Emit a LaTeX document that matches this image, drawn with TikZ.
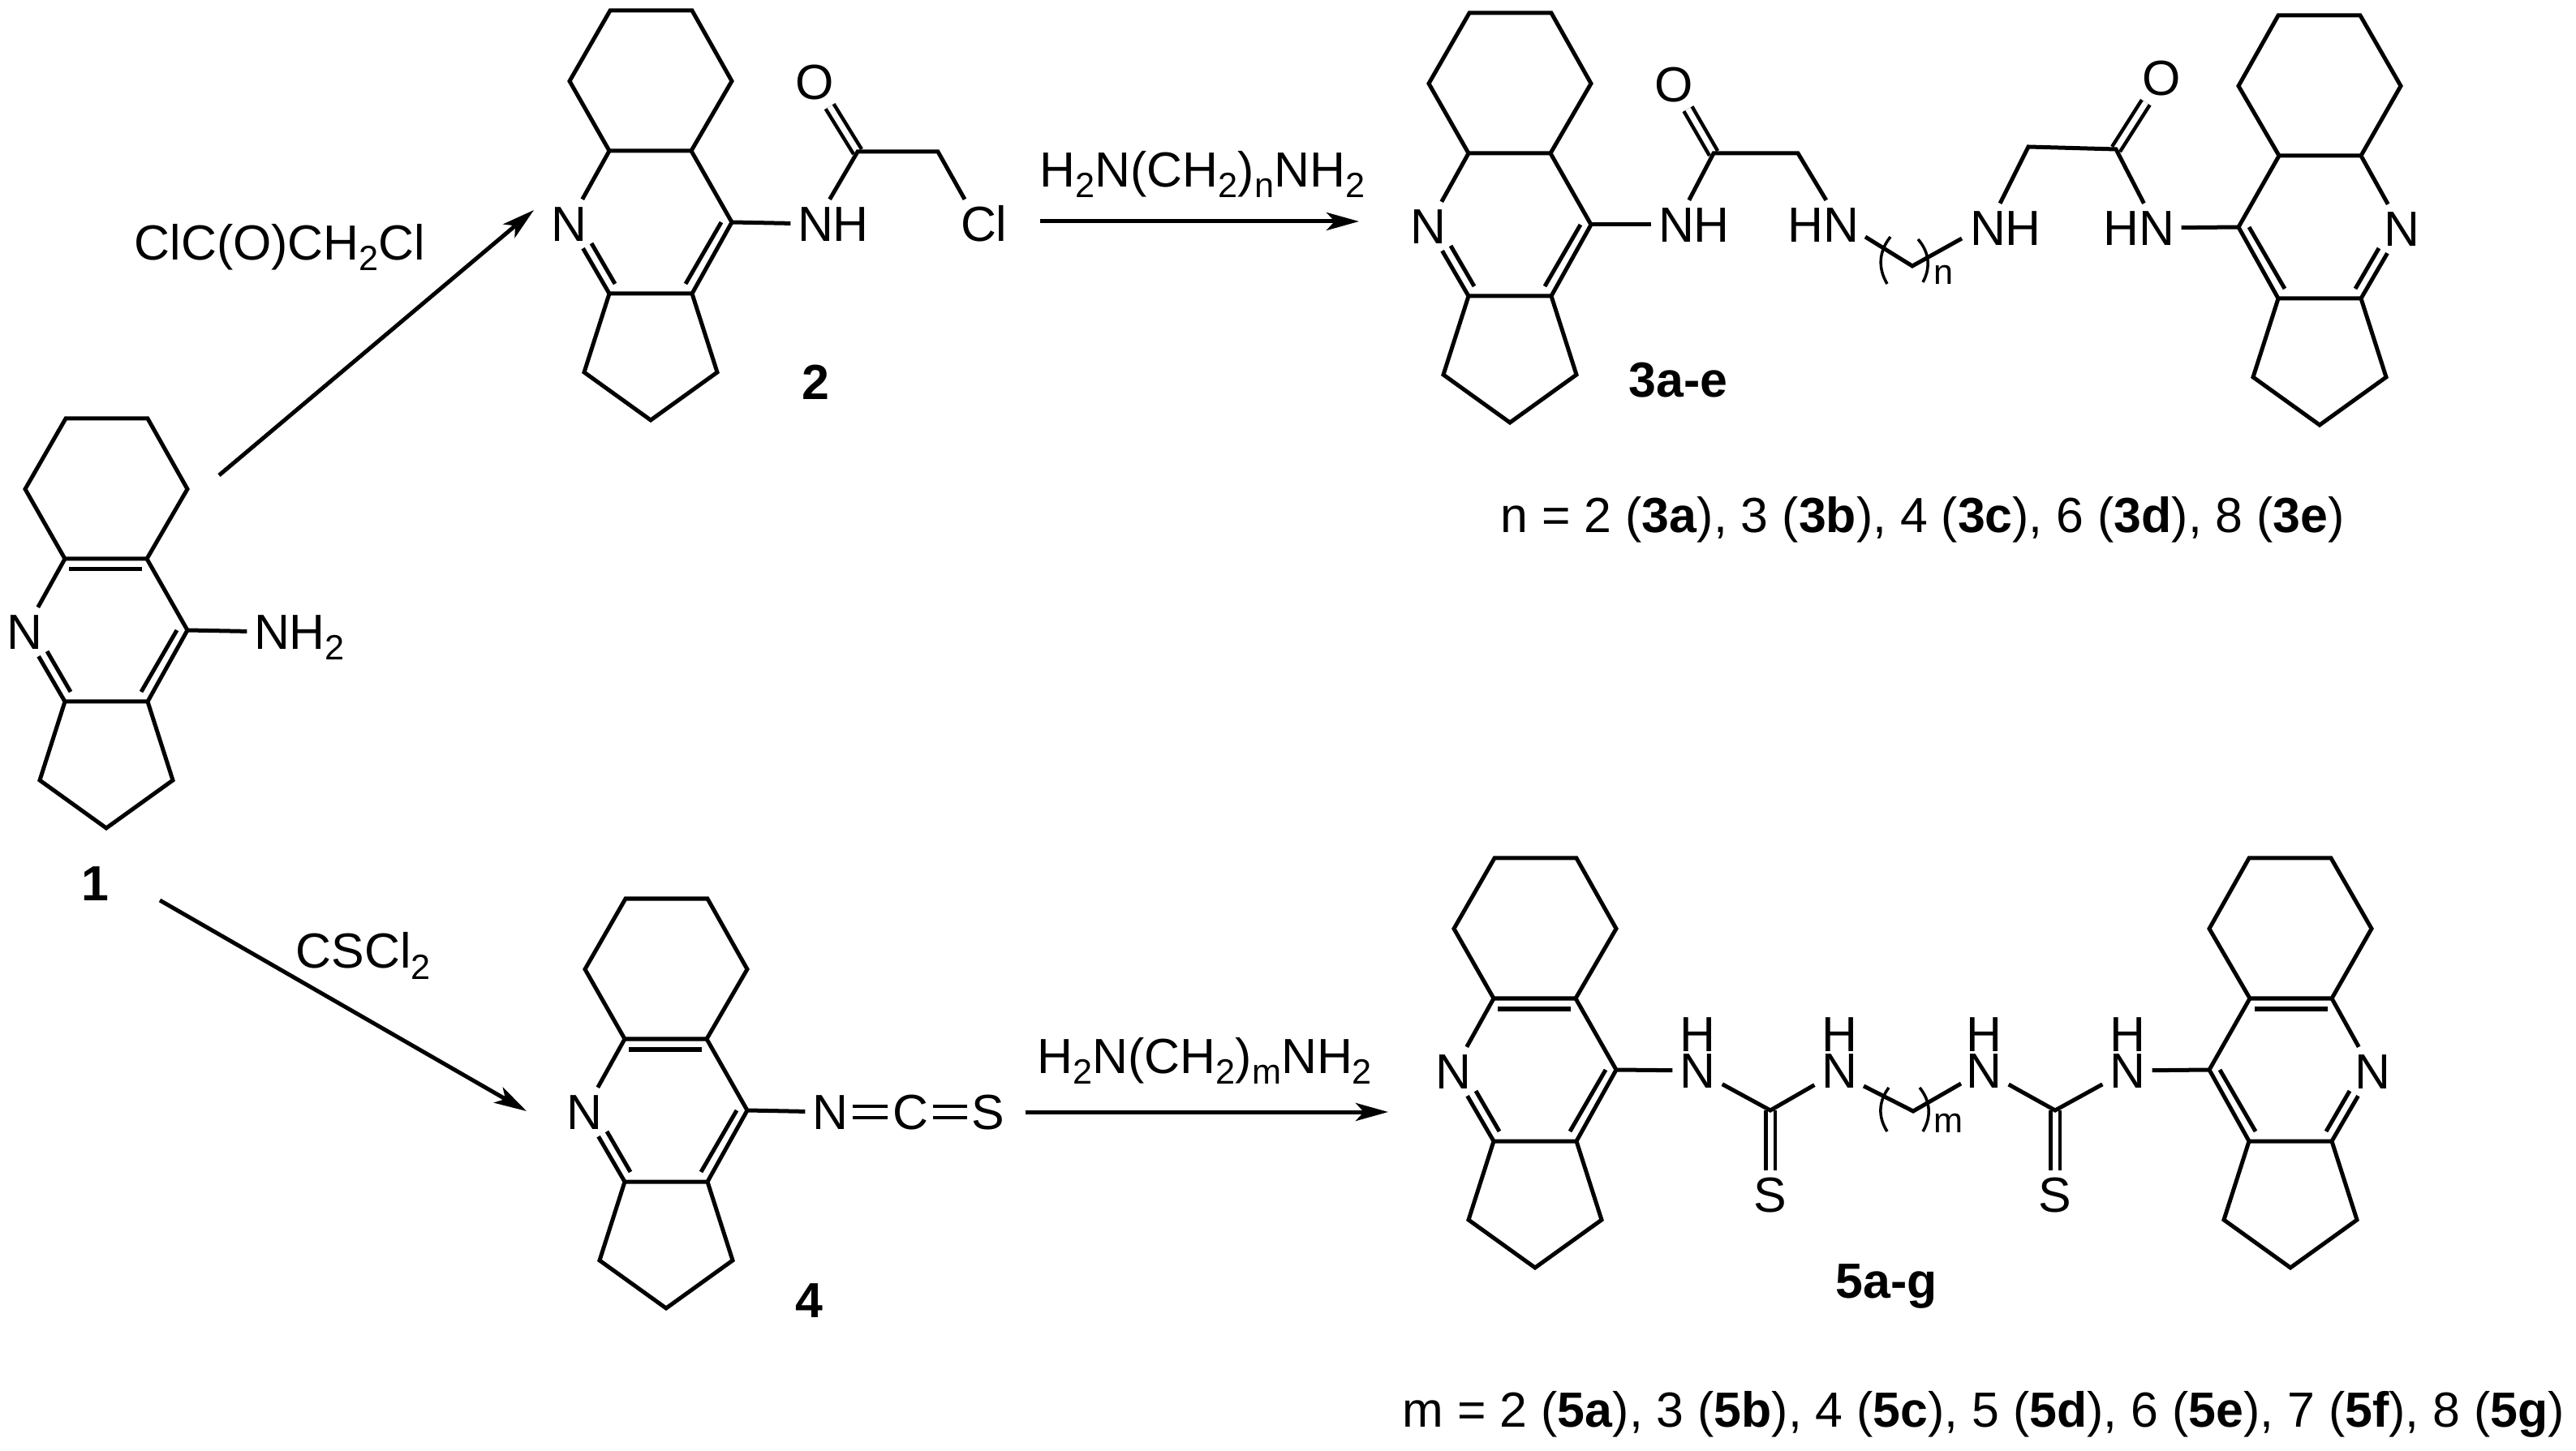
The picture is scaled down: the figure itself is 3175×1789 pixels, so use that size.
\documentclass[tikz,border=0pt]{standalone}
\usepackage{fontspec}
\setmainfont{Liberation Sans}
\usetikzlibrary{arrows.meta}

\newcommand{\ssub}[1]{\raisebox{-0.13cm}{\fontsize{12.3}{15}\selectfont #1}}

\tikzset{
  bond/.style={line width=0.05cm,line join=miter},
  dbond/.style={line width=0.045cm,double,double distance=0.07cm},
  thinbond/.style={line width=0.035cm},
  rxn/.style={line width=0.05cm,-{Stealth[length=0.4cm,width=0.22cm,inset=0.1cm]}},
  atom/.style={font=\fontsize{17.3}{20}\selectfont,inner sep=0.08cm,text height=0.43cm,text depth=0pt},
  reagent/.style={font=\fontsize{17.3}{20}\selectfont,inner sep=0pt,anchor=base west},
  subscr/.style={font=\fontsize{12.3}{15}\selectfont,inner sep=0pt},
  cmpd/.style={font=\fontsize{17.3}{20}\selectfont\bfseries,inner sep=0pt,anchor=base},
}

\newcommand{\tricycle}[4]{%
  \begin{scope}[shift={(#2,#3)},xscale=#4]
    \coordinate (#1tl) at (-50,-261);
    \coordinate (#1tr) at (51,-261);
    \coordinate (#1ul) at (-100,-174);
    \coordinate (#1ur) at (100,-174);
    \coordinate (#1jtl) at (-51,-88);
    \coordinate (#1jtr) at (50,-88);
    \coordinate (#1c) at (100,0);
    \coordinate (#1jbr) at (51,88);
    \coordinate (#1jbl) at (-51,88);
    \coordinate (#1cpl) at (-82,185);
    \coordinate (#1cpr) at (82,185);
    \coordinate (#1cpb) at (0,244);
    \coordinate (#1ia) at (87,0);
    \coordinate (#1ib) at (43,76);
    \coordinate (#1ic) at (-73,26);
    \coordinate (#1id) at (-44,76);
    \coordinate (#1ie) at (-46,-75);
    \coordinate (#1if) at (44,-75);
    \node[atom] (#1n) at (-101,2) {N};
  \end{scope}
  \draw[bond] (#1jtl) -- (#1ul) -- (#1tl) -- (#1tr) -- (#1ur) -- (#1jtr) -- cycle;
  \draw[bond] (#1jtr) -- (#1c) -- (#1jbr) -- (#1jbl);
  \draw[bond] (#1jtl) -- (#1n);
  \draw[bond] (#1n) -- (#1jbl);
  \draw[bond] (#1jbl) -- (#1cpl) -- (#1cpb) -- (#1cpr) -- (#1jbr);
  \draw[bond] (#1ia) -- (#1ib);
  \draw[bond] (#1ic) -- (#1id);
}

\begin{document}
\begin{tikzpicture}[x=0.01cm,y=-0.01cm]
  \useasboundingbox (0,0) rectangle (3175,1789);

  \tricycle{a}{131}{777}{1}
  \draw[bond] (aie) -- (aif);
  \node[atom] (anh) at (335,779) {N\rlap{H\ssub{2}}};
  \draw[bond] (ac) -- (anh);
  \node[cmpd] (lab1) at (117,1111) {1};

  \tricycle{b}{802}{274}{1}
  \node[atom] (bnh) at (1005,276) {N\rlap{H}};
  \node[atom] (bo) at (1004,101) {O};
  \node[atom] (bcl) at (1206,276) {C\rlap{l}};
  \coordinate (bco) at (1057,187);
  \coordinate (bch) at (1156,187);
  \draw[dbond] (bco) -- (bo);
  \draw[bond] (bc) -- (bnh);
  \draw[bond] (bnh) -- (bco) -- (bch) -- (bcl);
  \node[cmpd] (lab2) at (1005,493) {2};

  \tricycle{c}{1861}{277}{1}
  \tricycle{d}{2859}{280}{-1}
  \node[atom] (cnh) at (2066,277) {N\rlap{H}};
  \node[atom] (co) at (2063,104) {O};
  \node[atom] (chn) at (2269,277) {\llap{H}N};
  \node[atom] (dnh) at (2450,281) {N\rlap{H}};
  \node[atom] (do) at (2664,96) {O};
  \node[atom] (dhn) at (2658,281) {\llap{H}N};
  \coordinate (cco) at (2112,189);
  \coordinate (cch) at (2216,189);
  \coordinate (dch) at (2500,181);
  \coordinate (dco) at (2608,184);
  \coordinate (cha) at (2299,292);
  \coordinate (chb) at (2357,328);
  \coordinate (chc) at (2418,294);
  \draw[dbond] (cco) -- (co);
  \draw[dbond] (dco) -- (do);
  \draw[bond] (cc) -- (cnh);
  \draw[bond] (cnh) -- (cco) -- (cch) -- (chn);
  \draw[bond] (cha) -- (chb) -- (chc);
  \draw[bond] (dnh) -- (dch) -- (dco) -- (dhn);
  \draw[bond] (dhn) -- (dc);
  \coordinate (cpa) at (2330,292);
  \coordinate (cpb) at (2326,350);
  \coordinate (cpc) at (2364,295);
  \coordinate (cpd) at (2370,348);
  \draw[thinbond] (cpa) to[bend right=35] (cpb);
  \draw[thinbond] (cpc) to[bend left=35] (cpd);
  \node[subscr] (cidx) at (2396,339) {n};
  \node[cmpd,anchor=base west] (lab3) at (2007,490) {3a-e};
  \node[reagent] (listn) at (1849,657) {n = 2 (\textbf{3a}), 3 (\textbf{3b}), 4 (\textbf{3c}), 6 (\textbf{3d}), 8 (\textbf{3e})};

  \tricycle{e}{821}{1369}{1}
  \draw[bond] (eie) -- (eif);
  \node[atom] (nitro) at (1023,1371) {N};
  \node[atom] (carb) at (1122,1371) {C};
  \node[atom] (sulf) at (1218,1371) {S};
  \draw[bond] (ec) -- (nitro);
  \draw[dbond,double distance=0.09cm,shorten <=-0.03cm,shorten >=-0.03cm] (nitro) -- (carb);
  \draw[dbond,double distance=0.09cm,shorten <=-0.03cm,shorten >=-0.03cm] (carb) -- (sulf);
  \node[cmpd] (lab4) at (997,1624) {4};

  \tricycle{f}{1892}{1319}{1}
  \tricycle{g}{2823}{1319}{-1}
  \draw[bond] (fie) -- (fif);
  \draw[bond] (gie) -- (gif);
  \node[atom] (fna) at (2092,1320) {N};
  \node[atom] (fnb) at (2267,1320) {N};
  \node[atom] (gnb) at (2445,1320) {N};
  \node[atom] (gna) at (2622,1320) {N};
  \node[atom] (fha) at (2092,1275) {H};
  \node[atom] (fhb) at (2267,1275) {H};
  \node[atom] (ghb) at (2445,1275) {H};
  \node[atom] (gha) at (2622,1275) {H};
  \node[atom] (fs) at (2182,1473) {S};
  \node[atom] (gs) at (2533,1473) {S};
  \coordinate (fcs) at (2182,1369);
  \coordinate (gcs) at (2533,1369);
  \coordinate (fga) at (2297,1339);
  \coordinate (fgb) at (2358,1370);
  \coordinate (fgc) at (2417,1336);
  \draw[dbond] (fcs) -- (fs);
  \draw[dbond] (gcs) -- (gs);
  \draw[bond] (fc) -- (fna);
  \draw[bond] (fna) -- (fcs) -- (fnb);
  \draw[bond] (fga) -- (fgb) -- (fgc);
  \draw[bond] (gnb) -- (gcs) -- (gna);
  \draw[bond] (gna) -- (gc);
  \coordinate (fpa) at (2328,1341);
  \coordinate (fpb) at (2326,1395);
  \coordinate (fpc) at (2366,1341);
  \coordinate (fpd) at (2370,1395);
  \draw[thinbond] (fpa) to[bend right=35] (fpb);
  \draw[thinbond] (fpc) to[bend left=35] (fpd);
  \node[subscr] (fidx) at (2401,1385) {m};
  \node[cmpd,anchor=base west] (lab5) at (2262,1600) {5a-g};
  \node[reagent] (listm) at (1728,1759) {m = 2 (\textbf{5a}), 3 (\textbf{5b}), 4 (\textbf{5c}), 5 (\textbf{5d}), 6 (\textbf{5e}), 7 (\textbf{5f}), 8 (\textbf{5g})};

  \coordinate (ra) at (270,586);
  \coordinate (rb) at (658,259);
  \coordinate (rc) at (1282,273);
  \coordinate (rd) at (1675,273);
  \coordinate (re) at (197,1110);
  \coordinate (rf) at (649,1370);
  \coordinate (rg) at (1264,1371);
  \coordinate (rh) at (1711,1371);
  \draw[rxn] (ra) -- (rb);
  \draw[rxn] (rc) -- (rd);
  \draw[rxn] (re) -- (rf);
  \draw[rxn] (rg) -- (rh);
  \node[reagent] (reaga) at (165,321) {ClC(O)CH\ssub{2}Cl};
  \node[reagent] (reagb) at (1281,231) {H\ssub{2}N(CH\ssub{2})\ssub{n}NH\ssub{2}};
  \node[reagent] (reagc) at (364,1194) {CSCl\ssub{2}};
  \node[reagent] (reagd) at (1278,1323) {H\ssub{2}N(CH\ssub{2})\ssub{m}NH\ssub{2}};
\end{tikzpicture}
\end{document}
